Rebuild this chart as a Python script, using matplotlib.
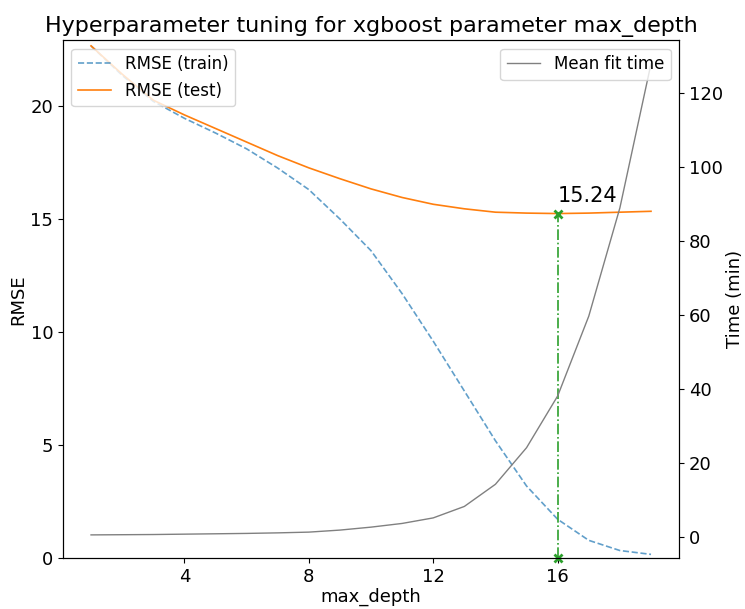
import matplotlib
matplotlib.use("Agg")
import matplotlib.pyplot as plt

# data
max_depth = list(range(1, 20))
rmse_train = [22.65, 21.35, 20.2, 19.45, 18.8, 18.1, 17.25, 16.3, 15.0, 13.6,
              11.7, 9.6, 7.4, 5.2, 3.2, 1.73, 0.8, 0.35, 0.18]
rmse_test = [22.65, 21.4, 20.25, 19.6, 19.0, 18.4, 17.8, 17.26, 16.78, 16.33,
             15.95, 15.65, 15.45, 15.3, 15.26, 15.24, 15.26, 15.3, 15.34]
fit_time = [0.5, 0.55, 0.6, 0.7, 0.8, 0.9, 1.05, 1.25, 1.8, 2.6,
            3.6, 5.1, 8.2, 14.2, 24.1, 38.1, 59.7, 89.0, 128.0]
best_depth = 16
best_rmse = 15.24

fig = plt.figure(figsize=(7.45, 6.09), dpi=100)
# axes box in figure fractions (left, bottom, width, height)
ax = fig.add_axes([0.0846, 0.0830, 0.8268, 0.8510])
ax.plot(max_depth, rmse_train, "--", color="C0", alpha=0.7, lw=1.2, label="RMSE (train)")
ax.plot(max_depth, rmse_test, "-", color="C1", lw=1.2, label="RMSE (test)")
ax.plot([best_depth, best_depth], [0, best_rmse], "-.", color="C2", marker="x",
        ms=6, mew=2, lw=1.2, clip_on=False)
ax.text(best_depth, best_rmse + 0.35, f"{best_rmse:.2f}", fontsize=15, ha="left", va="bottom")
ax.set_ylim(0, 22.9)
ax.set_xticks([4, 8, 12, 16])
ax.set_xlabel("max_depth", fontsize=13, labelpad=1)
ax.set_ylabel("RMSE", fontsize=13, labelpad=2)
ax.tick_params(labelsize=13)
ax.legend(loc="upper left", fontsize=12)

ax2 = ax.twinx()
ax2.plot(max_depth, fit_time, color="gray", lw=1, label="Mean fit time")
ax2.set_ylabel("Time (min)", fontsize=13, labelpad=2)
ax2.tick_params(labelsize=13)
ax2.legend(loc="upper right", fontsize=12)

ax.set_title("Hyperparameter tuning for xgboost parameter max_depth", fontsize=16)
fig.savefig("out.png", dpi=100)
